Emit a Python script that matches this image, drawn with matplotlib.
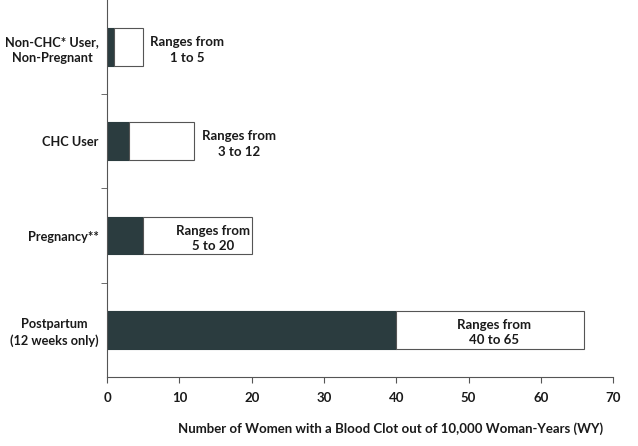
import numpy as np
import matplotlib.pyplot as plt

plt.rcParams['font.family'] = ['Lato', 'DejaVu Sans']

# data
categories = ['Non-CHC* User,\nNon-Pregnant', 'CHC User', 'Pregnancy**',
              'Postpartum\n(12 weeks only)']
range_low = [1, 3, 5, 40]
range_high = [5, 12, 20, 66]
range_labels = ['Ranges from\n1 to 5', 'Ranges from\n3 to 12',
                'Ranges from\n5 to 20', 'Ranges from\n40 to 65']
x_ticks = [0, 10, 20, 30, 40, 50, 60, 70]

# where each range label sits (layout only)
label_x = [11.1, 18.2, 14.7, 53.5]

dark = '#2b3c3f'
txt = '#1a1a1a'
fs = 9.5

fig = plt.figure(figsize=(6.38, 4.46), dpi=100)
ax = fig.add_axes([0.168, 0.155, 0.793, 0.845])

y = np.arange(len(categories))[::-1]
low = np.array(range_low)
high = np.array(range_high)

ax.barh(y, low, height=0.4, color=dark, edgecolor=dark, linewidth=0.8)
ax.barh(y, high - low, left=low, height=0.4, color='white',
        edgecolor='#555555', linewidth=0.8)

for yi, lx, lab in zip(y, label_x, range_labels):
    ax.text(lx, yi - 0.03, lab, ha='center', va='center', multialignment='center',
            fontsize=fs, fontweight='bold', color=txt, linespacing=1.35)

ax.set_xlim(0, 70)
ax.set_ylim(-0.5, len(categories) - 0.5)
ax.set_xticks(x_ticks)
ax.set_xticklabels([str(v) for v in x_ticks], fontsize=fs, fontweight='bold', color=txt)

ax.set_yticks(y)
ax.set_yticklabels(categories, fontsize=9.2, fontweight='bold', color=txt,
                   multialignment='center', linespacing=1.35)
ax.set_yticks(np.arange(0.5, len(categories) - 1), minor=True)
ax.tick_params(axis='y', which='major', length=0, pad=6)
ax.tick_params(axis='y', which='minor', length=4, color='#555555')
ax.tick_params(axis='x', length=4, color='#555555', pad=7)

for s in ['top', 'right']:
    ax.spines[s].set_visible(False)
for s in ['left', 'bottom']:
    ax.spines[s].set_color('#555555')
    ax.spines[s].set_linewidth(0.8)

ax.set_xlabel('Number of Women with a Blood Clot out of 10,000 Woman-Years (WY)',
              fontsize=fs, fontweight='bold', color=txt)
ax.xaxis.set_label_coords(0.56, -0.12)

fig.savefig('out.png', dpi=100)
